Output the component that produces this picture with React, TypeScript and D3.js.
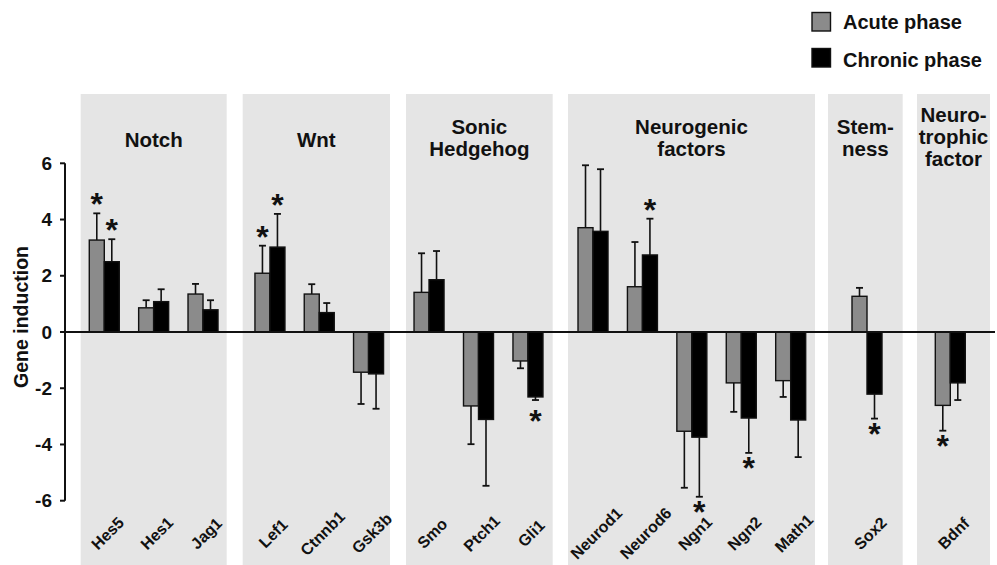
import React from "react";
import * as d3 from "d3";

const genes = ["Hes5","Hes1","Jag1","Lef1","Ctnnb1","Gsk3b","Smo","Ptch1","Gli1","Neurod1","Neurod6","Ngn1","Ngn2","Math1","Sox2","Bdnf"];
const groupTitles = [["Notch"],["Wnt"],["Sonic","Hedgehog"],["Neurogenic","factors"],["Stem-","ness"],["Neuro-","trophic","factor"]];
const groupGenes = [["Hes5","Hes1","Jag1"],["Lef1","Ctnnb1","Gsk3b"],["Smo","Ptch1","Gli1"],["Neurod1","Neurod6","Ngn1","Ngn2","Math1"],["Sox2"],["Bdnf"]];
const acute = [3.27,0.86,1.35,2.09,1.35,-1.43,1.41,-2.63,-1.03,3.71,1.61,-3.53,-1.81,-1.73,1.27,-2.61];
const acuteErr = [0.95,0.27,0.36,0.98,0.35,1.13,1.39,1.36,0.26,2.22,1.59,2.01,1.03,0.58,0.30,0.90];
const chronic = [2.50,1.08,0.79,3.02,0.69,-1.49,1.86,-3.11,-2.31,3.58,2.74,-3.74,-3.06,-3.13,-2.21,-1.81];
const chronicErr = [0.80,0.44,0.34,1.18,0.34,1.24,1.02,2.36,0.11,2.21,1.29,2.12,1.24,1.32,0.87,0.61];
const acuteStars = ["Hes5","Lef1","Bdnf"];
const chronicStars = ["Hes5","Lef1","Neurod6","Gli1","Ngn1","Ngn2","Sox2"];
const yTicks = [6,4,2,0,-2,-4,-6];
const seriesNames = ["Acute phase","Chronic phase"];

// layout (pixel positions of panels and their category bands)
const PANEL_RECT = [[80.7,226.7],[242.7,390],[406,552.7],[568,815],[828,902.7],[917,990]];
const PANEL_BAND = [[79.6,227.7],[245.3,393.2],[404.3,552.7],[568.3,815.4],[842.3,891.7],[925.6,975]];

const FONT = "'Liberation Sans', Arial, Helvetica, sans-serif";
const W = 997, H = 565;
const AXIS_X = 65;
const BAR_W = 15;
const ACUTE_FILL = "#8b8b8b";

export default function App() {
  const y = d3.scaleLinear().domain([-6, 6]).range([500.7, 163.3]);
  const y0 = y(0);

  const xCenter: Record<string, number> = {};
  groupGenes.forEach((gs, i) => {
    const band = d3.scaleBand<string>().domain(gs).range(PANEL_BAND[i] as [number, number]).padding(0);
    gs.forEach((g) => { xCenter[g] = (band(g) as number) + band.bandwidth() / 2; });
  });

  const series = [
    { vals: acute, errs: acuteErr, stars: acuteStars, fill: ACUTE_FILL, off: -BAR_W },
    { vals: chronic, errs: chronicErr, stars: chronicStars, fill: "#000", off: 0 },
  ];

  return (
    <svg width={W} height={H} style={{ position: "absolute", left: 0, top: 0, background: "#fff" }} fontFamily={FONT}>
      {PANEL_RECT.map(([a, b], i) => (
        <rect key={"p" + i} x={a} y={94} width={b - a} height={H - 94} fill="#e5e5e5" />
      ))}
      {groupTitles.map((lines, i) => {
        const cx = (PANEL_RECT[i][0] + PANEL_RECT[i][1]) / 2;
        const first = 146.5 - (lines.length - 1) * 12.5;
        return (
          <text key={"t" + i} x={cx} textAnchor="middle" fontWeight="bold" fontSize={20.5} fill="#111">
            {lines.map((l, j) => (
              <tspan key={j} x={cx} y={first + j * 22}>{l}</tspan>
            ))}
          </text>
        );
      })}
      {series.map((s, si) =>
        genes.map((g, gi) => {
          const v = s.vals[gi];
          const e = s.errs[gi];
          const x0 = xCenter[g] + s.off;
          const top = Math.min(y(v), y0);
          const h = Math.abs(y(v) - y0);
          const cx = x0 + BAR_W / 2;
          const endV = v >= 0 ? v + e : v - e;
          const yEnd = y(endV);
          const star = s.stars.includes(g);
          const starY = v >= 0 ? yEnd - 12 : yEnd + 12 + (g === "Gli1" ? 6 : 0);
          return (
            <g key={si + "-" + g}>
              <line x1={cx} x2={cx} y1={y(v)} y2={yEnd} stroke="#111" strokeWidth={1.6} />
              <line x1={cx - 3.5} x2={cx + 3.5} y1={yEnd} y2={yEnd} stroke="#111" strokeWidth={1.8} />
              <rect x={x0} y={top} width={BAR_W} height={h} fill={s.fill} stroke="#111" strokeWidth={1.4} />
              {star && (
                <text x={cx} y={starY + 14} textAnchor="middle" fontWeight="bold" fontSize={32} fill="#111">*</text>
              )}
            </g>
          );
        })
      )}
      <line x1={AXIS_X} x2={995} y1={y0} y2={y0} stroke="#111" strokeWidth={2} />
      <line x1={AXIS_X} x2={AXIS_X} y1={y(6)} y2={y(-6)} stroke="#111" strokeWidth={2} />
      {yTicks.map((t) => (
        <g key={"yt" + t}>
          <line x1={AXIS_X - 5} x2={AXIS_X} y1={y(t)} y2={y(t)} stroke="#111" strokeWidth={2} />
          <text x={52} y={y(t)} dy="0.35em" textAnchor="end" fontWeight="bold" fontSize={19} fill="#111">{t}</text>
        </g>
      ))}
      <text x={28} y={317} transform="rotate(-90 28 317)" textAnchor="middle" fontWeight="bold" fontSize={19.5} fill="#111">Gene induction</text>
      {genes.map((g) => {
        const lx = xCenter[g] + 3;
        const ly = 533;
        return (
          <text key={"l" + g} x={lx} y={ly + 6} transform={`rotate(-45 ${lx} ${ly})`} textAnchor="middle" fontWeight="bold" fontSize={16} fill="#111">{g}</text>
        );
      })}
      {seriesNames.map((n, i) => (
        <g key={"lg" + i}>
          <rect x={812} y={12.5 + i * 36} width={18.5} height={18.5} fill={i === 0 ? ACUTE_FILL : "#000"} stroke="#111" strokeWidth={1.4} />
          <text x={843} y={28.5 + i * 38} fontWeight="bold" fontSize={20} fill="#111">{n}</text>
        </g>
      ))}
    </svg>
  );
}
